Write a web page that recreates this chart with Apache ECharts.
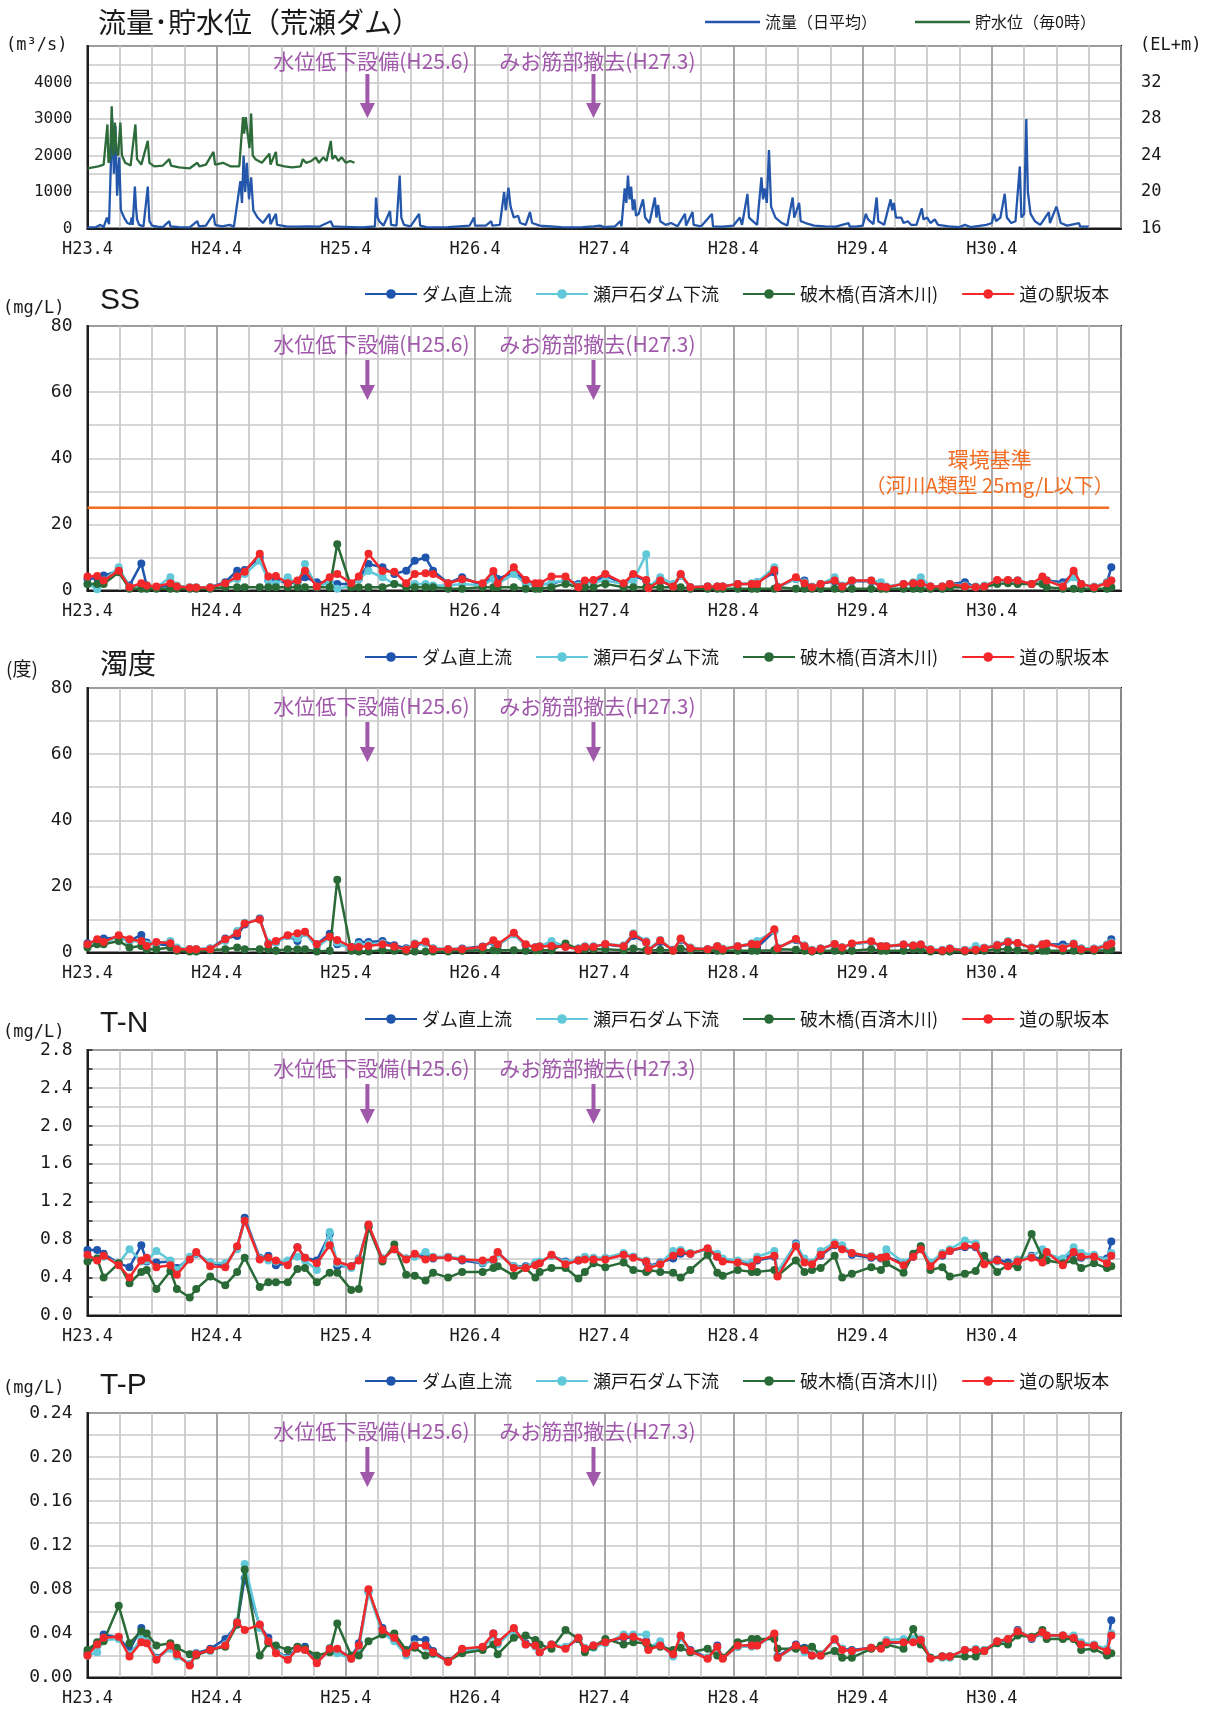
<!DOCTYPE html>
<html>
<head>
<meta charset="utf-8">
<script src="https://cdn.jsdelivr.net/npm/echarts@6/dist/echarts.min.js"></script>
<style>
  html, body { margin: 0; padding: 0; background: #ffffff; }
  #chart { width: 1205px; height: 1715px; }
</style>
</head>
<body>
<div id="chart"></div>
<script>
// ---------------------------------------------------------------
// Data: months are counted from H23.4 (April 2011) = 0
// ---------------------------------------------------------------
const yearLabels = ['H23.4', 'H24.4', 'H25.4', 'H26.4', 'H27.4', 'H28.4', 'H29.4', 'H30.4'];

const flowTicks = ['0', '1000', '2000', '3000', '4000'];
const levelTicks = ['16', '20', '24', '28', '32'];
const ssTicks = ['0', '20', '40', '60', '80'];
const turbTicks = ['0', '20', '40', '60', '80'];
const tnTicks = ['0.0', '0.4', '0.8', '1.2', '1.6', '2.0', '2.4', '2.8'];
const tpTicks = ['0.00', '0.04', '0.08', '0.12', '0.16', '0.20', '0.24'];

// Daily mean discharge (m3/s): event peaks and recessions
const flowMonths = [
  0, 0.8, 1.2, 1.5, 1.8, 2.0, 2.3, 2.45, 2.6, 2.75, 2.95, 3.1, 3.4, 3.7, 4.0, 4.1, 4.2, 4.4, 4.5, 4.6,
  4.8, 5.2, 5.6, 5.75, 6.0, 6.5, 7.0, 7.6, 7.7, 8.5, 9.5, 10.2, 10.35, 11.0, 11.7, 11.85, 12.5, 13.2, 13.6, 14.2,
  14.35, 14.5, 14.65, 14.8, 15.0, 15.2, 15.4, 15.8, 16.3, 16.9, 17.0, 17.5, 17.6, 18.5, 19.5, 20.5, 21.5, 22.6, 22.8, 23.5,
  24.5, 25.5, 26.7, 26.8, 26.95, 27.1, 27.5, 28.1, 28.2, 28.7, 29.0, 29.15, 29.4, 30.0, 30.8, 30.9, 31.5, 32.5, 33.5, 34.5,
  35.5, 35.9, 36.0, 37.0, 37.5, 37.6, 38.3, 38.7, 38.85, 39.1, 39.3, 39.6, 40.0, 40.2, 40.7, 41.1, 41.3, 42.0, 43.0, 44.0,
  45.0, 46.0, 47.0, 47.6, 48.0, 49.0, 49.5, 49.6, 49.9, 50.05, 50.2, 50.35, 50.5, 50.65, 50.8, 50.95, 51.2, 51.6, 51.8, 52.2,
  52.7, 52.85, 53.0, 53.2, 53.7, 54.2, 54.8, 55.5, 55.6, 56.2, 56.3, 57.0, 58.0, 58.1, 59.0, 60.0, 60.6, 60.8, 61.3, 61.45,
  61.8, 62.2, 62.6, 62.75, 62.9, 63.1, 63.3, 63.5, 63.9, 64.5, 65.0, 65.5, 65.65, 66.1, 66.25, 66.7, 67.5, 68.5, 69.5, 70.7,
  70.8, 71.5, 72.0, 72.3, 72.5, 73.0, 73.3, 73.45, 74.0, 74.6, 74.75, 74.9, 75.1, 75.6, 75.8, 76.2, 76.5, 77.0, 77.5, 77.65,
  78.0, 78.3, 78.7, 79.0, 80.0, 81.0, 81.5, 82.0, 83.0, 83.5, 84.0, 84.2, 84.4, 84.8, 85.2, 85.4, 85.8, 86.2, 86.6, 86.75,
  87.0, 87.2, 87.35, 87.6, 88.0, 88.5, 89.3, 89.4, 90.0, 90.2, 90.4, 91.0, 92.1, 92.2, 93.0
];
const flowValues = [
  30, 40, 100, 40, 300, 120, 3000, 1500, 2800, 900, 1950, 500, 300, 150, 120, 300, 100, 1150, 600, 250,
  100, 60, 1150, 200, 80, 50, 40, 200, 60, 40, 30, 200, 60, 80, 400, 100, 60, 100, 50, 1300,
  700, 2000, 1000, 1800, 800, 1400, 500, 300, 150, 400, 120, 400, 100, 60, 50, 60, 50, 200, 60, 50,
  40, 30, 60, 850, 300, 200, 80, 480, 100, 80, 1450, 300, 100, 60, 400, 80, 40, 30, 40, 60,
  80, 300, 80, 80, 200, 80, 100, 1000, 500, 1120, 600, 300, 350, 150, 100, 450, 150, 80, 60, 40,
  30, 40, 60, 80, 40, 60, 200, 60, 1100, 700, 1450, 800, 1150, 500, 800, 350, 400, 800, 300, 150,
  850, 300, 650, 200, 100, 150, 60, 400, 80, 450, 100, 60, 400, 60, 50, 80, 300, 100, 950, 300,
  200, 100, 1400, 800, 1100, 700, 2150, 600, 300, 150, 80, 850, 300, 700, 200, 150, 80, 60, 50, 150,
  50, 60, 80, 400, 250, 120, 850, 200, 100, 800, 500, 700, 300, 300, 150, 200, 100, 100, 550, 250,
  300, 150, 250, 100, 60, 40, 100, 40, 80, 100, 150, 400, 200, 300, 950, 300, 150, 200, 1700, 300,
  400, 3000, 1000, 400, 200, 100, 450, 150, 600, 400, 150, 80, 150, 60, 50
];

// Reservoir water level at 0:00 (EL+m)
const levelMonths = [
  0, 0.5, 1.0, 1.5, 1.85, 1.95, 2.1, 2.25, 2.4, 2.55, 2.7, 2.85, 3.05, 3.2, 3.5, 4.0, 4.45, 4.6, 5.0, 5.6,
  5.75, 6.2, 7.0, 7.6, 7.75, 8.5, 9.5, 10.2, 10.4, 11.0, 11.7, 11.85, 12.6, 13.3, 14.1, 14.3, 14.45, 14.55, 14.7, 14.85,
  15.05, 15.2, 15.35, 15.6, 16.2, 16.9, 17.0, 17.5, 17.6, 18.3, 19.0, 19.8, 20.0, 20.3, 20.8, 21.2, 21.5, 21.9, 22.2, 22.6,
  22.75, 23.0, 23.3, 23.6, 24.0, 24.4, 24.8
];
const levelValues = [
  22.6, 22.7, 22.8, 23.0, 27.4, 23.2, 23.6, 29.4, 24.0, 27.6, 24.4, 24.0, 27.6, 24.0, 23.2, 22.9, 27.4, 23.6, 23.0, 25.6,
  23.2, 22.8, 22.9, 23.6, 22.9, 22.7, 22.6, 23.2, 22.8, 23.0, 24.4, 23.0, 23.2, 22.8, 22.8, 26.0, 28.2, 26.4, 28.2, 26.6,
  24.8, 28.6, 24.0, 23.6, 23.2, 24.2, 23.0, 24.4, 23.0, 22.8, 22.7, 22.8, 23.6, 23.2, 23.4, 23.8, 23.2, 23.8, 23.4, 25.6,
  23.6, 24.0, 23.4, 23.8, 23.2, 23.4, 23.2
];

// Water quality sampling dates (months from H23.4)
const sampleMonths = [
  0, 0.9, 1.5, 2.9, 3.9, 5.0, 5.5, 6.4, 7.7, 8.3,
  9.5, 10.1, 11.4, 12.8, 13.9, 14.6, 16.0, 16.8, 17.5, 18.6,
  19.5, 20.2, 21.3, 22.5, 23.2, 24.5, 25.2, 26.1, 27.4, 28.5,
  29.6, 30.4, 31.4, 32.1, 33.5, 34.8, 36.7, 37.7, 38.1, 39.6,
  40.7, 41.6, 42.0, 43.1, 44.4, 45.6, 46.2, 47.0,
  48.1, 49.8, 50.7, 51.9, 52.1, 53.2, 54.4, 55.1, 56.0, 57.6,
  58.5, 59.0, 60.4, 61.7, 62.2, 63.8, 64.1, 65.8, 66.6, 67.3,
  68.1, 69.4, 70.1, 71.0, 72.8, 73.7, 74.2, 75.8, 76.7, 77.4,
  78.3, 79.4, 80.1, 81.5, 82.5, 83.3, 84.5, 85.5, 86.4, 87.7,
  88.7, 89.1, 90.6, 91.6, 92.3, 93.5, 94.7, 95.1
];

const siteNames = ['ダム直上流', '瀬戸石ダム下流', '破木橋(百済木川)', '道の駅坂本'];

// SS (mg/L)
const ssDam = [
  3.5, 3.8, 4.5, 6.0, 1.5, 8.2, 1.5, 1.0, 1.5, 1.0,
  0.8, 0.8, 1.0, 2.5, 6.0, 6.2, 10.0, 3.0, 3.5, 2.0,
  2.5, 4.0, 2.5, 2.5, 2.0, 2.0, 3.5, 8.0, 7.0, 5.0,
  6.0, 9.0, 10.0, 6.0, 2.2, 4.0, 1.5, 4.5, 3.5, 5.5,
  3.0, 2.0, 2.0, 2.0, 3.2, 2.0, 2.5, 2.5,
  4.5, 2.0, 4.5, 3.0, 1.0, 3.0, 1.2, 4.5, 1.0, 1.2,
  1.2, 1.2, 2.0, 2.0, 2.5, 5.5, 1.0, 3.5, 3.0, 1.0,
  2.0, 2.8, 1.2, 2.8, 2.8, 1.2, 1.0, 2.0, 2.0, 2.0,
  1.2, 1.2, 2.0, 2.5, 1.0, 1.2, 3.0, 3.0, 3.0, 2.0,
  3.5, 3.0, 2.5, 5.0, 2.0, 1.0, 2.5, 7.0
];
const ssSetoishi = [
  2.0, 0.4, 3.0, 7.0, 1.0, 1.5, 1.0, 1.0, 4.0, 1.5,
  1.0, 1.0, 1.0, 2.0, 3.5, 5.0, 9.0, 3.0, 2.0, 4.0,
  2.0, 8.0, 1.0, 2.5, 0.5, 1.5, 3.5, 5.9, 4.0, 2.0,
  1.5, 2.0, 2.0, 1.5, 1.5, 2.0, 1.5, 3.5, 2.0, 5.0,
  2.0, 1.5, 1.5, 2.5, 3.0, 1.5, 2.0, 2.5,
  3.0, 2.0, 3.0, 11.0, 1.0, 4.0, 2.0, 4.5, 1.0, 1.2,
  1.2, 1.2, 2.0, 2.2, 2.5, 7.0, 1.2, 3.5, 2.5, 1.2,
  2.0, 4.0, 1.5, 3.0, 3.0, 2.5, 1.2, 2.0, 2.5, 4.0,
  1.2, 1.2, 2.0, 1.5, 1.2, 1.5, 3.0, 3.0, 3.0, 2.0,
  3.5, 3.0, 1.5, 4.0, 2.0, 1.2, 2.5, 3.0
];
const ssHaki = [
  2.0, 2.0, 2.0, 5.5, 0.5, 0.5, 0.5, 0.5, 0.5, 0.5,
  0.5, 0.5, 0.5, 1.0, 1.0, 1.0, 1.0, 1.0, 1.0, 1.0,
  1.0, 1.0, 1.0, 1.0, 14.0, 1.0, 1.0, 1.0, 1.0, 2.0,
  1.0, 1.0, 1.0, 1.0, 0.5, 0.5, 1.0, 1.0, 1.0, 1.0,
  0.5, 0.5, 0.5, 1.0, 2.0, 1.0, 1.0, 1.0,
  2.0, 1.0, 1.0, 1.0, 1.0, 1.0, 1.0, 1.0, 0.5, 0.5,
  0.5, 0.5, 0.5, 0.5, 0.5, 0.5, 1.0, 0.5, 0.5, 0.5,
  0.5, 0.5, 0.5, 0.5, 0.5, 0.5, 0.5, 0.5, 0.5, 0.5,
  0.5, 0.5, 1.0, 1.0, 1.0, 1.0, 2.0, 2.2, 2.0, 2.0,
  2.0, 1.0, 0.5, 0.5, 0.5, 0.5, 0.5, 1.0
];
const ssMichi = [
  4.2, 4.4, 3.0, 6.0, 1.0, 2.2, 1.5, 1.2, 2.2, 1.2,
  0.9, 0.9, 0.9, 2.2, 4.2, 5.7, 11.1, 4.2, 4.4, 2.2,
  3.0, 6.0, 1.2, 4.0, 5.0, 2.2, 4.2, 11.1, 5.9, 5.7,
  2.2, 5.0, 5.2, 5.0, 2.2, 3.4, 2.2, 5.9, 2.2, 7.0,
  3.2, 2.2, 2.2, 4.2, 4.2, 1.0, 3.0, 3.2,
  5.0, 2.2, 5.0, 3.2, 0.7, 3.0, 1.2, 5.0, 1.0, 1.2,
  1.2, 1.2, 2.0, 2.0, 2.0, 6.2, 1.0, 4.0, 2.2, 1.0,
  2.0, 3.0, 1.2, 3.0, 3.0, 1.2, 1.0, 2.0, 2.2, 2.2,
  1.2, 1.2, 2.0, 1.2, 1.0, 1.2, 3.2, 3.2, 3.0, 2.0,
  4.2, 3.0, 1.2, 6.0, 2.0, 1.0, 2.2, 3.0
];

// Turbidity (degree)
const turbDam = [
  2.8, 3.5, 4.2, 4.5, 3.5, 5.3, 3.0, 2.5, 2.2, 1.0,
  1.0, 1.0, 1.2, 4.2, 5.0, 8.5, 10.3, 2.5, 3.0, 5.0,
  3.5, 6.0, 2.5, 5.7, 2.5, 1.7, 3.2, 3.2, 3.5, 2.2,
  1.3, 2.2, 2.8, 1.2, 1.0, 1.2, 1.8, 3.2, 2.2, 5.5,
  2.2, 1.6, 1.8, 2.2, 1.8, 1.2, 1.8, 1.8,
  2.4, 1.8, 5.0, 3.0, 0.8, 3.2, 0.8, 3.8, 1.4, 1.0,
  1.8, 1.0, 1.8, 2.4, 1.5, 6.5, 1.4, 3.8, 1.8, 0.7,
  1.2, 2.4, 1.5, 2.5, 3.2, 1.8, 1.8, 2.3, 2.0, 2.3,
  0.9, 0.7, 1.2, 0.7, 0.9, 1.4, 2.0, 3.0, 2.8, 1.4,
  2.3, 2.5, 2.4, 2.4, 1.2, 1.1, 2.0, 4.0
];
const turbSetoishi = [
  2.2, 3.2, 3.0, 4.8, 3.5, 3.3, 2.5, 2.8, 3.5, 1.5,
  1.0, 1.0, 1.2, 3.5, 6.5, 9.0, 10.0, 3.0, 3.0, 5.0,
  4.2, 5.8, 1.5, 4.5, 3.0, 1.0, 2.5, 2.5, 2.8, 1.5,
  1.0, 2.8, 2.8, 1.2, 1.0, 1.0, 1.5, 3.5, 2.2, 5.5,
  2.2, 1.5, 1.8, 3.5, 1.8, 1.2, 1.8, 1.8,
  2.5, 2.2, 5.8, 3.5, 1.0, 3.8, 0.7, 4.0, 1.5, 1.0,
  2.0, 1.2, 2.0, 2.8, 3.5, 6.5, 1.5, 4.0, 2.2, 0.8,
  1.2, 2.6, 1.6, 2.5, 3.2, 2.0, 2.0, 2.5, 2.2, 2.5,
  1.0, 0.8, 1.2, 0.8, 2.0, 1.4, 2.4, 3.5, 2.8, 1.4,
  2.6, 2.6, 1.5, 2.8, 1.2, 1.2, 2.5, 3.0
];
const turbHaki = [
  1.5, 2.5, 2.5, 3.5, 1.5, 2.0, 1.0, 1.0, 1.5, 0.5,
  0.3, 0.3, 0.7, 1.0, 1.5, 1.0, 1.0, 1.0, 0.5, 1.0,
  1.0, 1.0, 0.3, 0.5, 22.0, 0.5, 0.3, 0.3, 0.7, 0.5,
  0.3, 0.3, 0.3, 0.3, 0.3, 0.5, 0.7, 0.7, 0.7, 0.7,
  0.5, 0.7, 0.7, 0.7, 2.7, 1.0, 1.0, 1.0,
  1.0, 0.7, 1.2, 0.7, 0.5, 0.8, 0.5, 1.2, 0.7, 0.7,
  0.5, 0.5, 0.5, 0.5, 0.5, 0.7, 1.0, 0.8, 0.5, 0.3,
  0.5, 0.5, 0.5, 0.5, 1.0, 0.5, 0.5, 0.5, 1.0, 0.8,
  0.3, 0.3, 0.3, 0.3, 0.5, 0.5, 1.0, 1.0, 0.7, 0.5,
  0.5, 0.5, 0.5, 0.5, 0.5, 0.5, 0.7, 1.0
];
const turbMichi = [
  2.5, 4.0, 3.2, 5.2, 4.0, 3.5, 2.0, 3.2, 2.8, 1.0,
  1.0, 1.0, 1.0, 4.0, 5.8, 8.8, 10.0, 2.5, 3.5, 5.2,
  5.8, 6.3, 2.5, 4.8, 3.8, 1.7, 1.7, 2.0, 2.5, 1.8,
  0.8, 2.5, 3.3, 1.0, 1.0, 1.0, 1.7, 3.7, 2.5, 6.0,
  2.5, 1.5, 1.8, 2.0, 1.7, 1.0, 1.7, 1.7,
  2.6, 1.9, 5.5, 3.1, 0.6, 3.6, 0.6, 4.2, 1.3, 1.0,
  1.9, 1.0, 1.9, 2.6, 2.4, 7.0, 1.3, 4.1, 1.9, 0.6,
  1.1, 2.6, 1.5, 2.7, 3.4, 1.9, 1.9, 2.4, 2.1, 2.4,
  0.8, 0.6, 1.1, 0.6, 0.8, 1.3, 2.2, 3.2, 2.9, 1.3,
  2.4, 2.7, 1.3, 2.6, 1.0, 1.0, 2.1, 2.7
];

// T-N (mg/L)
const tnDam = [
  0.69, 0.69, 0.65, 0.55, 0.51, 0.74, 0.57, 0.56, 0.57, 0.50,
  0.60, 0.65, 0.56, 0.52, 0.72, 1.03, 0.61, 0.63, 0.53, 0.55,
  0.72, 0.61, 0.58, 0.86, 0.52, 0.52, 0.60, 0.95, 0.60, 0.70,
  0.60, 0.64, 0.62, 0.60, 0.62, 0.58, 0.55, 0.58, 0.66, 0.52,
  0.52, 0.55, 0.56, 0.63, 0.57, 0.58, 0.61, 0.60,
  0.60, 0.64, 0.62, 0.56, 0.52, 0.56, 0.60, 0.65, 0.65, 0.70,
  0.62, 0.59, 0.57, 0.54, 0.58, 0.62, 0.45, 0.76, 0.58, 0.55,
  0.63, 0.74, 0.71, 0.64, 0.61, 0.60, 0.62, 0.55, 0.62, 0.70,
  0.55, 0.63, 0.68, 0.72, 0.72, 0.56, 0.59, 0.56, 0.57, 0.63,
  0.58, 0.65, 0.59, 0.66, 0.61, 0.62, 0.60, 0.78
];
const tnSetoishi = [
  0.62, 0.60, 0.62, 0.55, 0.70, 0.57, 0.58, 0.68, 0.58, 0.48,
  0.62, 0.66, 0.56, 0.55, 0.70, 1.00, 0.60, 0.58, 0.57, 0.58,
  0.62, 0.58, 0.48, 0.88, 0.55, 0.50, 0.60, 0.94, 0.60, 0.70,
  0.60, 0.62, 0.67, 0.62, 0.62, 0.60, 0.56, 0.58, 0.65, 0.52,
  0.51, 0.56, 0.57, 0.63, 0.56, 0.59, 0.62, 0.61,
  0.61, 0.66, 0.62, 0.58, 0.51, 0.55, 0.68, 0.69, 0.66, 0.70,
  0.65, 0.60, 0.58, 0.56, 0.62, 0.68, 0.47, 0.75, 0.60, 0.56,
  0.68, 0.77, 0.74, 0.66, 0.63, 0.61, 0.70, 0.56, 0.63, 0.73,
  0.56, 0.66, 0.70, 0.79, 0.76, 0.57, 0.57, 0.53, 0.59, 0.62,
  0.70, 0.65, 0.60, 0.72, 0.66, 0.64, 0.58, 0.66
];
const tnHaki = [
  0.57, 0.60, 0.40, 0.55, 0.34, 0.46, 0.48, 0.28, 0.47, 0.28,
  0.19, 0.28, 0.41, 0.32, 0.46, 0.61, 0.30, 0.35, 0.35, 0.35,
  0.49, 0.50, 0.35, 0.45, 0.45, 0.27, 0.28, 0.93, 0.57, 0.75,
  0.43, 0.42, 0.37, 0.45, 0.40, 0.46, 0.46, 0.50, 0.52, 0.42,
  0.50, 0.40, 0.46, 0.50, 0.50, 0.39, 0.46, 0.55,
  0.51, 0.56, 0.48, 0.46, 0.48, 0.46, 0.45, 0.40, 0.48, 0.64,
  0.45, 0.42, 0.48, 0.46, 0.46, 0.48, 0.42, 0.58, 0.46, 0.48,
  0.50, 0.63, 0.40, 0.44, 0.51, 0.48, 0.55, 0.45, 0.65, 0.73,
  0.48, 0.51, 0.41, 0.44, 0.47, 0.63, 0.46, 0.53, 0.51, 0.86,
  0.61, 0.58, 0.55, 0.58, 0.50, 0.55, 0.50, 0.52
];
const tnMichi = [
  0.64, 0.58, 0.63, 0.53, 0.40, 0.58, 0.61, 0.51, 0.53, 0.43,
  0.59, 0.67, 0.52, 0.51, 0.73, 1.00, 0.59, 0.61, 0.58, 0.53,
  0.72, 0.61, 0.55, 0.74, 0.57, 0.52, 0.58, 0.96, 0.59, 0.70,
  0.59, 0.65, 0.59, 0.61, 0.61, 0.59, 0.58, 0.59, 0.67, 0.50,
  0.50, 0.53, 0.55, 0.64, 0.54, 0.58, 0.59, 0.59,
  0.59, 0.64, 0.61, 0.57, 0.50, 0.54, 0.63, 0.67, 0.65, 0.71,
  0.62, 0.57, 0.56, 0.52, 0.59, 0.63, 0.41, 0.73, 0.56, 0.54,
  0.64, 0.75, 0.70, 0.66, 0.62, 0.61, 0.62, 0.53, 0.62, 0.70,
  0.52, 0.64, 0.68, 0.73, 0.73, 0.54, 0.58, 0.52, 0.57, 0.61,
  0.56, 0.67, 0.53, 0.67, 0.62, 0.62, 0.55, 0.63
];

// T-P (mg/L)
const tpDam = [
  0.022, 0.031, 0.039, 0.036, 0.025, 0.045, 0.032, 0.018, 0.027, 0.020,
  0.012, 0.022, 0.026, 0.035, 0.048, 0.090, 0.047, 0.036, 0.024, 0.018,
  0.027, 0.028, 0.014, 0.025, 0.025, 0.018, 0.031, 0.078, 0.045, 0.034,
  0.022, 0.035, 0.034, 0.024, 0.015, 0.025, 0.027, 0.040, 0.032, 0.044,
  0.031, 0.029, 0.023, 0.030, 0.027, 0.035, 0.026, 0.029,
  0.032, 0.036, 0.036, 0.033, 0.026, 0.030, 0.020, 0.037, 0.025, 0.018,
  0.029, 0.018, 0.028, 0.030, 0.030, 0.039, 0.019, 0.030, 0.027, 0.020,
  0.021, 0.034, 0.026, 0.025, 0.027, 0.027, 0.031, 0.032, 0.033, 0.034,
  0.018, 0.019, 0.019, 0.025, 0.025, 0.025, 0.032, 0.034, 0.043, 0.035,
  0.040, 0.038, 0.038, 0.036, 0.031, 0.029, 0.025, 0.052
];
const tpSetoishi = [
  0.020, 0.023, 0.034, 0.035, 0.021, 0.035, 0.033, 0.017, 0.026, 0.019,
  0.012, 0.021, 0.024, 0.030, 0.051, 0.103, 0.045, 0.033, 0.024, 0.017,
  0.026, 0.025, 0.014, 0.027, 0.022, 0.017, 0.025, 0.077, 0.040, 0.033,
  0.020, 0.030, 0.028, 0.021, 0.015, 0.024, 0.026, 0.038, 0.030, 0.043,
  0.030, 0.028, 0.024, 0.030, 0.028, 0.036, 0.027, 0.027,
  0.031, 0.039, 0.039, 0.039, 0.027, 0.033, 0.019, 0.036, 0.023, 0.018,
  0.027, 0.018, 0.028, 0.028, 0.029, 0.038, 0.018, 0.028, 0.023, 0.020,
  0.021, 0.034, 0.026, 0.023, 0.027, 0.027, 0.034, 0.035, 0.035, 0.035,
  0.018, 0.018, 0.018, 0.025, 0.026, 0.025, 0.033, 0.035, 0.042, 0.036,
  0.040, 0.038, 0.037, 0.038, 0.032, 0.030, 0.026, 0.040
];
const tpHaki = [
  0.025, 0.032, 0.033, 0.065, 0.031, 0.042, 0.040, 0.029, 0.031, 0.027,
  0.021, 0.020, 0.025, 0.028, 0.048, 0.098, 0.020, 0.031, 0.029, 0.025,
  0.028, 0.026, 0.020, 0.023, 0.049, 0.020, 0.020, 0.033, 0.039, 0.040,
  0.025, 0.027, 0.020, 0.022, 0.015, 0.022, 0.025, 0.030, 0.021, 0.036,
  0.038, 0.034, 0.030, 0.026, 0.043, 0.035, 0.023, 0.028,
  0.035, 0.030, 0.032, 0.031, 0.028, 0.028, 0.025, 0.027, 0.023, 0.026,
  0.020, 0.018, 0.032, 0.035, 0.035, 0.035, 0.026, 0.026, 0.026, 0.028,
  0.020, 0.024, 0.018, 0.018, 0.026, 0.029, 0.030, 0.026, 0.044, 0.030,
  0.018, 0.019, 0.019, 0.019, 0.019, 0.024, 0.031, 0.030, 0.038, 0.037,
  0.043, 0.035, 0.035, 0.035, 0.025, 0.026, 0.020, 0.022
];
const tpMichi = [
  0.020, 0.030, 0.036, 0.037, 0.019, 0.032, 0.031, 0.016, 0.029, 0.021,
  0.011, 0.021, 0.025, 0.029, 0.050, 0.043, 0.048, 0.033, 0.022, 0.016,
  0.026, 0.025, 0.013, 0.026, 0.026, 0.017, 0.029, 0.080, 0.043, 0.036,
  0.022, 0.029, 0.029, 0.023, 0.014, 0.026, 0.028, 0.040, 0.032, 0.045,
  0.030, 0.029, 0.023, 0.030, 0.026, 0.036, 0.026, 0.029,
  0.032, 0.037, 0.037, 0.032, 0.025, 0.029, 0.021, 0.038, 0.024, 0.017,
  0.028, 0.017, 0.029, 0.029, 0.029, 0.040, 0.018, 0.029, 0.025, 0.020,
  0.020, 0.035, 0.025, 0.024, 0.027, 0.026, 0.032, 0.032, 0.032, 0.034,
  0.017, 0.019, 0.019, 0.025, 0.025, 0.024, 0.033, 0.035, 0.042, 0.036,
  0.041, 0.038, 0.038, 0.036, 0.030, 0.029, 0.024, 0.038
];

// Works carried out at the dam (month from H23.4)
const eventMonths = [26, 47];
const eventLabels = ['水位低下設備(H25.6)', 'みお筋部撤去(H27.3)'];

// SS environmental standard (river class A)
const envStdValue = 25;
const envStdSpan = [0, 94.9];
const envStdLabels = ['環境基準', '（河川A類型 25mg/L以下）'];

// ---------------------------------------------------------------
// Styling and layout
// ---------------------------------------------------------------
const CJK = '"Noto Sans CJK JP", sans-serif';
const MONO = '"DejaVu Sans Mono", "Liberation Mono", monospace';
const SANS = '"Liberation Sans", Arial, sans-serif';

const COL = {
  dam: '#1f55ac', setoishi: '#60c8d8', haki: '#2a6a37', michi: '#f2282b',
  flow: '#2457ab', level: '#2e6b3a', env: '#f26d22', note: '#a058aa',
  major: '#9a9a9a', minor: '#c8c8c8', frame: '#1c1c1c', text: '#1a1a1a'
};
const siteColors = [COL.dam, COL.setoishi, COL.haki, COL.michi];

const PLOT_LEFT = 87.5;
const PLOT_WIDTH = 1121 - 87.5;
const panels = [
  { top: 46, height: 182.5 },
  { top: 326, height: 264.5 },
  { top: 688, height: 264.5 },
  { top: 1050, height: 265.5 },
  { top: 1413, height: 264.5 }
];

function tickFormatter(ticks, base, step) {
  return function (v) {
    const k = (v - base) / step;
    const r = Math.round(k);
    if (Math.abs(k - r) > 1e-6) return '';
    return ticks[r] !== undefined ? ticks[r] : '';
  };
}

function pairs(xs, ys) {
  return xs.map((x, i) => [x, ys[i] === undefined ? null : ys[i]]);
}

const grids = panels.map(p => ({
  left: PLOT_LEFT, width: PLOT_WIDTH, top: p.top, height: p.height,
  show: true, borderColor: COL.frame, borderWidth: 2, backgroundColor: 'transparent',
  containLabel: false, outerBoundsMode: 'none'
}));

const xAxes = panels.map((p, i) => ({
  type: 'value', gridIndex: i, min: 0, max: 96, interval: 3,
  axisLine: { show: true, onZero: false, lineStyle: { color: COL.frame, width: 2 } },
  axisTick: { show: false },
  splitLine: { show: true, lineStyle: { color: [COL.major, COL.minor, COL.minor, COL.minor], width: 1.7 } },
  axisLabel: {
    margin: 13, color: COL.text, fontFamily: MONO, fontSize: 17,
    formatter: v => (v % 12 === 0 && yearLabels[v / 12]) ? yearLabels[v / 12] : ''
  }
}));

function yAxis(gridIndex, min, max, interval, ticks, base, step, extra) {
  return Object.assign({
    type: 'value', gridIndex, min, max, interval,
    axisLine: { show: true, lineStyle: { color: COL.frame, width: 2 } },
    axisTick: { show: false },
    splitLine: { show: true, lineStyle: { color: COL.minor, width: 1.7 } },
    axisLabel: {
      margin: 15, color: COL.text, fontFamily: MONO, fontSize: 18,
      formatter: tickFormatter(ticks, base, step)
    }
  }, extra || {});
}

const yAxes = [
  yAxis(0, 0, 5000, 500, flowTicks, 0, 1000, {
    axisLabel: { margin: 15, color: COL.text, fontFamily: MONO, fontSize: 16, formatter: tickFormatter(flowTicks, 0, 1000) }
  }),
  yAxis(0, 16, 36, 2, levelTicks, 16, 4, {
    position: 'right', splitLine: { show: false }, axisLine: { show: false },
    axisLabel: { margin: 20, color: COL.text, fontFamily: MONO, fontSize: 17, formatter: tickFormatter(levelTicks, 16, 4) }
  }),
  yAxis(1, 0, 80, 10, ssTicks, 0, 20),
  yAxis(2, 0, 80, 10, turbTicks, 0, 20),
  yAxis(3, 0, 2.8, 0.2, tnTicks, 0, 0.4, { axisTick: { show: true, inside: true, length: 5, lineStyle: { color: COL.frame, width: 1.5 } } }),
  yAxis(4, 0, 0.24, 0.02, tpTicks, 0, 0.04)
];

const series = [];

// Discharge and reservoir level
series.push({
  name: '流量（日平均）', type: 'line', xAxisIndex: 0, yAxisIndex: 0,
  data: pairs(flowMonths, flowValues), symbol: 'none',
  lineStyle: { color: COL.flow, width: 2.3 }, itemStyle: { color: COL.flow }, z: 3
});
series.push({
  name: '貯水位（毎0時）', type: 'line', xAxisIndex: 0, yAxisIndex: 1,
  data: pairs(levelMonths, levelValues), symbol: 'none',
  lineStyle: { color: COL.level, width: 2.3 }, itemStyle: { color: COL.level }, z: 4
});

// SS environmental standard line
series.push({
  name: 'envStd', type: 'line', xAxisIndex: 1, yAxisIndex: 2,
  data: envStdSpan.map(m => [m, envStdValue]), symbol: 'none', silent: true,
  lineStyle: { color: COL.env, width: 2.5 }, z: 2
});

const qualitySets = [
  [ssDam, ssSetoishi, ssHaki, ssMichi],
  [turbDam, turbSetoishi, turbHaki, turbMichi],
  [tnDam, tnSetoishi, tnHaki, tnMichi],
  [tpDam, tpSetoishi, tpHaki, tpMichi]
];
qualitySets.forEach((set, pi) => {
  set.forEach((vals, si) => {
    series.push({
      name: siteNames[si], type: 'line', xAxisIndex: pi + 1, yAxisIndex: pi + 2,
      data: pairs(sampleMonths, vals),
      symbol: 'circle', symbolSize: 8, showSymbol: true,
      lineStyle: { color: siteColors[si], width: 2.5 },
      itemStyle: { color: siteColors[si] },
      z: 3 + si
    });
  });
});

const legendCenters = [296, 659, 1021, 1383];
const legends = [{
  data: [{ name: '流量（日平均）', icon: 'rect' }, { name: '貯水位（毎0時）', icon: 'rect' }],
  left: 705, top: 14, padding: 0, itemWidth: 55, itemHeight: 2.5, itemGap: 38,
  textStyle: { fontFamily: CJK, fontSize: 16, color: COL.text }, selectedMode: false
}].concat(legendCenters.map(cy => ({
  data: siteNames, left: 364, top: cy - 11, padding: 0,
  itemWidth: 52, itemHeight: 12, itemGap: 23,
  textStyle: { fontFamily: CJK, fontSize: 18, color: COL.text }, selectedMode: false
})));

const chart = echarts.init(document.getElementById('chart'), null, { renderer: 'canvas', width: 1205, height: 1715 });
chart.setOption({
  backgroundColor: '#ffffff',
  animation: false,
  grid: grids,
  xAxis: xAxes,
  yAxis: yAxes,
  legend: legends,
  series: series
});

// ---------------------------------------------------------------
// Titles, units and annotations
// ---------------------------------------------------------------
function label(text, x, y, font, color, align) {
  return {
    type: 'text', x, y, silent: true, z: 50,
    style: { text, font, fill: color || COL.text, align: align || 'left', verticalAlign: 'middle' }
  };
}

const graphics = [
  label('流量･貯水位（荒瀬ダム）', 98, 22, 'normal 28px ' + CJK),
  label('SS', 100, 301, 'normal 30px ' + SANS),
  label('濁度', 100, 663, 'normal 28px ' + CJK),
  label('T-N', 100, 1024, 'normal 30px ' + SANS),
  label('T-P', 100, 1386, 'normal 30px ' + SANS),
  label('(m³/s)', 6, 46, 'normal 17px ' + MONO),
  label('(EL+m)', 1140, 46, 'normal 17px ' + MONO),
  label('(mg/L)', 3, 309, 'normal 17px ' + MONO),
  label('(度)', 6, 669, 'normal 19px ' + CJK),
  label('(mg/L)', 3, 1033, 'normal 17px ' + MONO),
  label('(mg/L)', 3, 1389, 'normal 17px ' + MONO)
];

panels.forEach((p, gi) => {
  const textDy = gi === 0 ? 15 : 18;
  const arrowTop = gi === 0 ? 28 : 34;
  const arrowBottom = gi === 0 ? 72 : 74;
  eventMonths.forEach((m, ei) => {
    const x = chart.convertToPixel({ gridIndex: gi }, [m, 0])[0];
    graphics.push(label(eventLabels[ei], x + 4, p.top + textDy, 'normal 21px ' + CJK, COL.note, 'center'));
    const y0 = p.top + arrowTop, y1 = p.top + arrowBottom;
    graphics.push({
      type: 'rect', silent: true, z: 50,
      shape: { x: x - 2, y: y0, width: 4, height: y1 - y0 - 13 },
      style: { fill: COL.note }
    });
    graphics.push({
      type: 'polygon', silent: true, z: 50,
      shape: { points: [[x - 7.5, y1 - 15], [x + 7.5, y1 - 15], [x, y1]] },
      style: { fill: COL.note }
    });
  });
});

// Environmental standard caption above the SS line
const envPx = chart.convertToPixel({ gridIndex: 1 }, [83.8, envStdValue]);
graphics.push(label(envStdLabels[0], envPx[0], envPx[1] - 49, 'normal 21px ' + CJK, COL.env, 'center'));
graphics.push(label(envStdLabels[1], envPx[0], envPx[1] - 22, 'normal 20px ' + CJK, COL.env, 'center'));

chart.setOption({ graphic: graphics });
</script>
</body>
</html>
